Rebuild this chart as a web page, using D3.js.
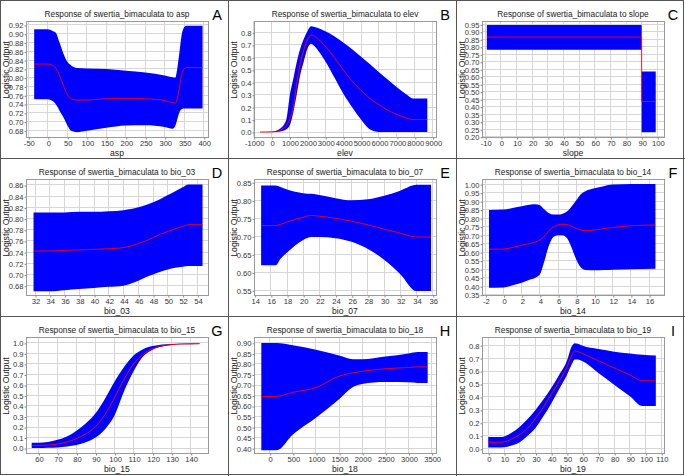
<!DOCTYPE html>
<html><head><meta charset="utf-8">
<script src="https://cdn.jsdelivr.net/npm/d3@7"></script>
<style>
body{margin:0;background:#fff}
svg{display:block}
text{font-family:"Liberation Sans",Arial,sans-serif}
</style>
</head><body>
<svg id="chart" width="685" height="476"></svg>
<script>
// ---------- data ----------
const species = "swertia_bimaculata";

// A: asp
const aspX    = [-35, 0, 15, 20, 30, 40, 50, 60, 75, 100, 150, 200, 250, 300, 320, 327, 332, 338, 343, 348, 355, 397];
const aspHi   = [0.910, 0.910, 0.905, 0.903, 0.880, 0.855, 0.836, 0.828, 0.822, 0.821, 0.820, 0.816, 0.812, 0.805, 0.801, 0.800, 0.820, 0.860, 0.895, 0.912, 0.918, 0.918];
const aspMean = [0.831, 0.831, 0.827, 0.822, 0.805, 0.782, 0.762, 0.752, 0.749, 0.749, 0.752, 0.753, 0.752, 0.748, 0.743, 0.742, 0.750, 0.780, 0.805, 0.818, 0.823, 0.823];
const aspLo   = [0.751, 0.751, 0.745, 0.740, 0.725, 0.710, 0.692, 0.679, 0.676, 0.679, 0.686, 0.691, 0.692, 0.688, 0.684, 0.690, 0.705, 0.722, 0.728, 0.730, 0.730, 0.730];
const aspXTicks = [-50, 0, 50, 100, 150, 200, 250, 300, 350, 400];
const aspYTicks = [0.68, 0.70, 0.72, 0.74, 0.76, 0.78, 0.80, 0.82, 0.84, 0.86, 0.88, 0.90, 0.92];

// B: elev
const elevX    = [-650, 0, 400, 800, 900, 1000, 1200, 1400, 1600, 1800, 2000, 2200, 2400, 2700, 3000, 3500, 4000, 4500, 5000, 5500, 6000, 6500, 7000, 7500, 7900, 8700];
const elevHi   = [0, 0.003, 0.02, 0.09, 0.17, 0.28, 0.42, 0.56, 0.67, 0.75, 0.81, 0.85, 0.845, 0.83, 0.81, 0.77, 0.72, 0.665, 0.605, 0.545, 0.48, 0.42, 0.36, 0.305, 0.27, 0.27];
const elevMean = [0, 0.001, 0.01, 0.05, 0.07, 0.10, 0.19, 0.38, 0.55, 0.66, 0.74, 0.78, 0.77, 0.735, 0.69, 0.60, 0.50, 0.41, 0.335, 0.27, 0.22, 0.175, 0.14, 0.115, 0.10, 0.10];
const elevLo   = [0, 0, 0.003, 0.02, 0.03, 0.05, 0.15, 0.30, 0.46, 0.57, 0.67, 0.71, 0.69, 0.635, 0.57, 0.44, 0.31, 0.20, 0.10, 0.02, 0, 0, 0, 0, 0, 0];
const elevXTicks = [-1000, 0, 1000, 2000, 3000, 4000, 5000, 6000, 7000, 8000, 9000];
const elevYTicks = [0.0, 0.1, 0.2, 0.3, 0.4, 0.5, 0.6, 0.7, 0.8];

// C: slope
const slopeX    = [-9, 90, 90, 99];
const slopeHi   = [0.945, 0.945, 0.635, 0.635];
const slopeMean = [0.865, 0.865, 0.435, 0.435];
const slopeLo   = [0.780, 0.780, 0.230, 0.230];
const slopeXTicks = [-10, 0, 10, 20, 30, 40, 50, 60, 70, 80, 90, 100];
const slopeYTicks = [0.20, 0.25, 0.30, 0.35, 0.40, 0.45, 0.50, 0.55, 0.60, 0.65, 0.70, 0.75, 0.80, 0.85, 0.90, 0.95];

// D: bio_03
const bio03X    = [31.8, 34, 36, 38, 40, 42, 44, 45, 46, 47, 48, 49, 50, 51, 52, 52.8, 54.7];
const bio03Hi   = [0.811, 0.811, 0.811, 0.812, 0.812, 0.813, 0.815, 0.817, 0.820, 0.824, 0.829, 0.835, 0.842, 0.849, 0.856, 0.861, 0.861];
const bio03Mean = [0.742, 0.742, 0.743, 0.744, 0.745, 0.746, 0.748, 0.751, 0.755, 0.760, 0.766, 0.772, 0.777, 0.782, 0.786, 0.789, 0.789];
const bio03Lo   = [0.670, 0.670, 0.672, 0.674, 0.676, 0.678, 0.680, 0.684, 0.689, 0.695, 0.700, 0.705, 0.709, 0.712, 0.714, 0.715, 0.715];
const bio03XTicks = [32, 34, 36, 38, 40, 42, 44, 46, 48, 50, 52, 54];
const bio03YTicks = [0.68, 0.70, 0.72, 0.74, 0.76, 0.78, 0.80, 0.82, 0.84, 0.86];

// E: bio_07
const bio07X    = [14.8, 16.6, 17.2, 18, 20, 21, 22, 24, 26, 28, 30, 32, 34, 35.8];
const bio07Hi   = [0.841, 0.841, 0.837, 0.830, 0.820, 0.818, 0.815, 0.806, 0.800, 0.803, 0.813, 0.827, 0.843, 0.843];
const bio07Mean = [0.730, 0.730, 0.733, 0.740, 0.753, 0.758, 0.756, 0.750, 0.742, 0.732, 0.720, 0.709, 0.698, 0.698];
const bio07Lo   = [0.620, 0.620, 0.638, 0.655, 0.690, 0.698, 0.698, 0.695, 0.685, 0.665, 0.635, 0.595, 0.548, 0.548];
const bio07XTicks = [14, 16, 18, 20, 22, 24, 26, 28, 30, 32, 34, 36];
const bio07YTicks = [0.55, 0.60, 0.65, 0.70, 0.75, 0.80, 0.85];

// F: bio_14
const bio14X    = [-1.6, 0, 1, 2, 3, 3.5, 4, 4.5, 5, 5.5, 6, 6.5, 7, 7.5, 8, 8.5, 9, 10, 11, 12, 14, 16.7];
const bio14Hi   = [0.848, 0.850, 0.860, 0.870, 0.880, 0.882, 0.875, 0.850, 0.828, 0.821, 0.821, 0.826, 0.840, 0.870, 0.905, 0.940, 0.958, 0.975, 0.988, 0.997, 1.0, 1.0];
const bio14Mean = [0.617, 0.618, 0.628, 0.640, 0.652, 0.660, 0.672, 0.695, 0.725, 0.750, 0.760, 0.764, 0.762, 0.752, 0.739, 0.730, 0.726, 0.730, 0.738, 0.745, 0.755, 0.760];
const bio14Lo   = [0.390, 0.392, 0.405, 0.420, 0.440, 0.450, 0.470, 0.550, 0.640, 0.690, 0.700, 0.700, 0.680, 0.625, 0.555, 0.510, 0.495, 0.493, 0.495, 0.497, 0.500, 0.502];
const bio14XTicks = [-2, 0, 2, 4, 6, 8, 10, 12, 14, 16];
const bio14YTicks = [0.35, 0.40, 0.45, 0.50, 0.55, 0.60, 0.65, 0.70, 0.75, 0.80, 0.85, 0.90, 0.95, 1.00];

// G: bio_15
const bio15X    = [56.5, 60, 65, 70, 75, 80, 85, 90, 95, 100, 105, 110, 115, 120, 125, 130, 135, 144.7];
const bio15Hi   = [0.050, 0.050, 0.058, 0.078, 0.110, 0.165, 0.235, 0.330, 0.470, 0.630, 0.770, 0.880, 0.940, 0.970, 0.985, 0.990, 0.993, 0.995];
const bio15Mean = [0.025, 0.025, 0.028, 0.038, 0.058, 0.090, 0.135, 0.205, 0.320, 0.480, 0.655, 0.800, 0.890, 0.945, 0.972, 0.985, 0.990, 0.992];
const bio15Lo   = [0.000, 0.000, 0.002, 0.006, 0.014, 0.028, 0.055, 0.100, 0.180, 0.310, 0.540, 0.730, 0.870, 0.935, 0.965, 0.980, 0.986, 0.990];
const bio15XTicks = [60, 70, 80, 90, 100, 110, 120, 130, 140];
const bio15YTicks = [0.0, 0.1, 0.2, 0.3, 0.4, 0.5, 0.6, 0.7, 0.8, 0.9, 1.0];

// H: bio_18
const bio18X    = [-180, 150, 500, 1000, 1500, 1800, 2000, 2500, 3000, 3200, 3414];
const bio18Hi   = [0.900, 0.900, 0.889, 0.868, 0.840, 0.822, 0.822, 0.835, 0.850, 0.857, 0.857];
const bio18Mean = [0.645, 0.646, 0.665, 0.688, 0.742, 0.758, 0.765, 0.777, 0.783, 0.786, 0.786];
const bio18Lo   = [0.390, 0.390, 0.465, 0.545, 0.632, 0.690, 0.705, 0.714, 0.713, 0.710, 0.710];
const bio18XTicks = [0, 500, 1000, 1500, 2000, 2500, 3000, 3500];
const bio18YTicks = [0.40, 0.45, 0.50, 0.55, 0.60, 0.65, 0.70, 0.75, 0.80, 0.85, 0.90];

// I: bio_19
const bio19X    = [0, 8, 12, 15, 20, 25, 30, 35, 40, 45, 50, 53, 55, 57, 60, 70, 80, 90, 98, 106.5];
const bio19Hi   = [0.09, 0.09, 0.105, 0.125, 0.17, 0.23, 0.30, 0.38, 0.47, 0.57, 0.68, 0.79, 0.815, 0.81, 0.795, 0.77, 0.75, 0.735, 0.725, 0.72];
const bio19Mean = [0.05, 0.05, 0.06, 0.075, 0.11, 0.16, 0.235, 0.32, 0.42, 0.52, 0.63, 0.72, 0.755, 0.75, 0.735, 0.68, 0.625, 0.57, 0.525, 0.525];
const bio19Lo   = [0.01, 0.01, 0.015, 0.025, 0.05, 0.10, 0.16, 0.25, 0.35, 0.46, 0.57, 0.65, 0.69, 0.69, 0.675, 0.585, 0.495, 0.405, 0.33, 0.33];
const bio19XTicks = [0, 10, 20, 30, 40, 50, 60, 70, 80, 90, 100, 110];
const bio19YTicks = [0.0, 0.1, 0.2, 0.3, 0.4, 0.5, 0.6, 0.7, 0.8];

const variables = ["asp", "elev", "slope", "bio_03", "bio_07", "bio_14", "bio_15", "bio_18", "bio_19"];
const letters   = ["A", "B", "C", "D", "E", "F", "G", "H", "I"];

// ---------- panel specs ----------
const panels = [
  {x: aspX,   hi: aspHi,   mean: aspMean,   lo: aspLo,   xt: aspXTicks,   yt: aspYTicks,   xd: [-56, 411],    yd: [0.665, 0.929], yf: ".2f"},
  {x: elevX,  hi: elevHi,  mean: elevMean,  lo: elevLo,  xt: elevXTicks,  yt: elevYTicks,  xd: [-985, 9186],  yd: [-0.04, 0.893], yf: ".1f"},
  {x: slopeX, hi: slopeHi, mean: slopeMean, lo: slopeLo, xt: slopeXTicks, yt: slopeYTicks, xd: [-12.1, 104.3], yd: [0.198, 0.972], yf: ".2f", linear: true},
  {x: bio03X, hi: bio03Hi, mean: bio03Mean, lo: bio03Lo, xt: bio03XTicks, yt: bio03YTicks, xd: [30.78, 55.44], yd: [0.6633, 0.8707], yf: ".2f"},
  {x: bio07X, hi: bio07Hi, mean: bio07Mean, lo: bio07Lo, xt: bio07XTicks, yt: bio07YTicks, xd: [13.92, 36.41], yd: [0.537, 0.8593], yf: ".2f"},
  {x: bio14X, hi: bio14Hi, mean: bio14Mean, lo: bio14Lo, xt: bio14XTicks, yt: bio14YTicks, xd: [-2.37, 17.64], yd: [0.348, 1.03], yf: ".2f"},
  {x: bio15X, hi: bio15Hi, mean: bio15Mean, lo: bio15Lo, xt: bio15XTicks, yt: bio15YTicks, xd: [53.5, 149.1],  yd: [-0.047, 1.056], yf: ".1f"},
  {x: bio18X, hi: bio18Hi, mean: bio18Mean, lo: bio18Lo, xt: bio18XTicks, yt: bio18YTicks, xd: [-338, 3594],   yd: [0.377, 0.928], yf: ".2f"},
  {x: bio19X, hi: bio19Hi, mean: bio19Mean, lo: bio19Lo, xt: bio19XTicks, yt: bio19YTicks, xd: [-4.0, 111.7],  yd: [-0.033, 0.863], yf: ".1f"}
];

// ---------- drawing ----------
const svg = d3.select("#chart");
const colW = 228, rowH = 158;
const fL = 26, fR = 208, fT = 21, fB = 137;
const gridCol = "#d6d6d6", frameCol = "#9a9a9a", txtCol = "#333";

panels.forEach((p, i) => {
  const col = i % 3, row = Math.floor(i / 3);
  const g = svg.append("g").attr("transform", `translate(${col * colW},${row * rowH})`);
  const x = d3.scaleLinear().domain(p.xd).range([fL, fR]);
  const y = d3.scaleLinear().domain(p.yd).range([fB, fT]);

  // grid
  g.append("g").selectAll("line").data(p.xt).join("line")
    .attr("x1", d => x(d)).attr("x2", d => x(d)).attr("y1", fT).attr("y2", fB)
    .attr("stroke", gridCol).attr("stroke-width", 1).attr("shape-rendering", "crispEdges");
  g.append("g").selectAll("line").data(p.yt).join("line")
    .attr("y1", d => y(d)).attr("y2", d => y(d)).attr("x1", fL).attr("x2", fR)
    .attr("stroke", gridCol).attr("stroke-width", 1).attr("shape-rendering", "crispEdges");

  const idx = d3.range(p.x.length);
  const curve = p.linear ? d3.curveLinear : d3.curveMonotoneX;
  g.append("path").datum(idx)
    .attr("d", d3.area().curve(curve).x(k => x(p.x[k])).y0(k => y(p.lo[k])).y1(k => y(p.hi[k])))
    .attr("fill", "#0000ff");
  g.append("path").datum(idx)
    .attr("d", d3.line().curve(curve).x(k => x(p.x[k])).y(k => y(p.mean[k])))
    .attr("fill", "none").attr("stroke", "#ff0000").attr("stroke-width", 0.9);

  // frame
  g.append("rect").attr("x", fL + 0.5).attr("y", fT + 0.5).attr("width", fR - fL).attr("height", fB - fT)
    .attr("fill", "none").attr("stroke", frameCol);

  // axes
  const fmtY = d3.format(p.yf);
  const ax = g.append("g").attr("transform", `translate(0.5,${fB + 0.5})`)
    .call(d3.axisBottom(x).tickValues(p.xt).tickFormat(d => String(d)).tickSize(2).tickPadding(1.5));
  const ay = g.append("g").attr("transform", `translate(${fL + 0.5},0.5)`)
    .call(d3.axisLeft(y).tickValues(p.yt).tickFormat(d => fmtY(d)).tickSize(2).tickPadding(1));
  [ax, ay].forEach(a => {
    a.select(".domain").remove();
    a.selectAll(".tick line").attr("stroke", "#888");
    a.selectAll(".tick text").attr("fill", txtCol).style("font-size", "7.6px").style("font-family", '"Liberation Sans",Arial,sans-serif');
  });

  // title
  g.append("text").attr("x", (fL + fR) / 2).attr("y", fT - 4).attr("text-anchor", "middle")
    .style("font-size", "8.3px").attr("fill", "#222")
    .text(`Response of ${species} to ${variables[i]}`);
  // x label
  g.append("text").attr("x", (fL + fR) / 2).attr("y", fB + 18.5).attr("text-anchor", "middle")
    .style("font-size", "8.6px").attr("fill", "#222").text(variables[i]);
  // y label
  g.append("text").attr("transform", `translate(8.6,${70}) rotate(-90)`).attr("text-anchor", "middle")
    .style("font-size", "8.6px").attr("fill", "#222").text("Logistic Output");
  // panel letter
  g.append("text").attr("x", 217).attr("y", 19.5).attr("text-anchor", "middle")
    .style("font-size", "14.5px").attr("fill", "#000").text(letters[i]);
});

// panel separators
const sepCol = "#555";
svg.append("rect").attr("x", 0.5).attr("y", 0.5).attr("width", 683).attr("height", 474)
  .attr("fill", "none").attr("stroke", sepCol);
[colW, 2 * colW].forEach(v => svg.append("line").attr("x1", v + 0.5).attr("x2", v + 0.5).attr("y1", 0).attr("y2", 476).attr("stroke", sepCol));
[rowH, 2 * rowH].forEach(v => svg.append("line").attr("y1", v + 0.5).attr("y2", v + 0.5).attr("x1", 0).attr("x2", 685).attr("stroke", sepCol));
</script>
</body></html>
